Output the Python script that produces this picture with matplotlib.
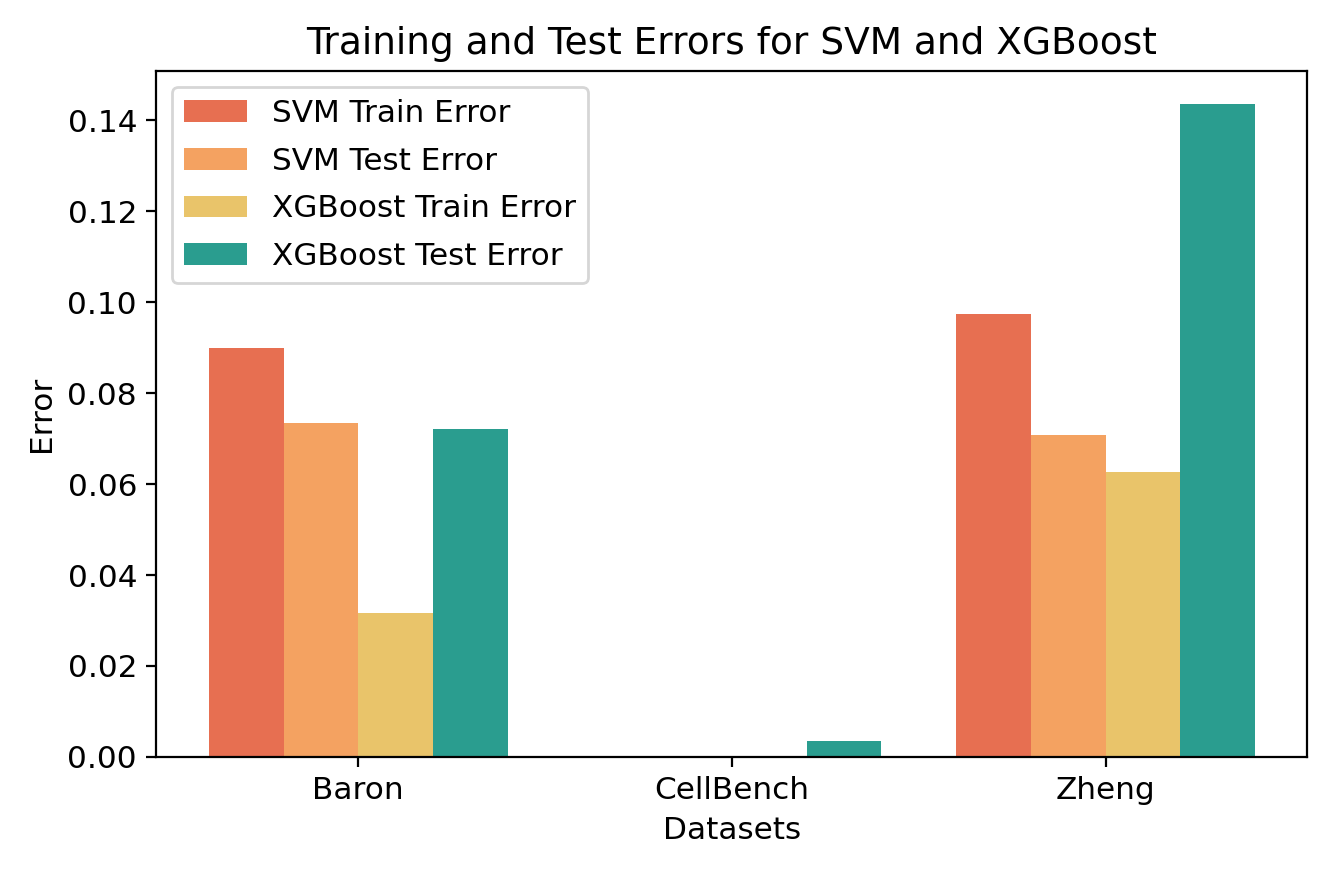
import numpy as np
import matplotlib.pyplot as plt

datasets = ['Baron', 'CellBench', 'Zheng']
svm_train = [0.0900, 0.0, 0.0975]
svm_test = [0.0735, 0.0, 0.0709]
xgb_train = [0.0317, 0.0, 0.0627]
xgb_test = [0.0722, 0.0035, 0.1437]

labels = ['SVM Train Error', 'SVM Test Error', 'XGBoost Train Error', 'XGBoost Test Error']
colors = ['#E76F51', '#F4A261', '#E9C46A', '#2A9D8F']

plt.rcParams['font.size'] = 11.2

fig = plt.figure(figsize=(6.63, 4.38), dpi=200)
ax = fig.add_axes([0.118, 0.136, 0.868, 0.783])

x = np.arange(len(datasets))
w = 0.2
series = [svm_train, svm_test, xgb_train, xgb_test]
for i, (vals, lab, c) in enumerate(zip(series, labels, colors)):
    ax.bar(x + (i - 1.5) * w, vals, w, label=lab, color=c)

ax.set_xticks(x)
ax.set_xticklabels(datasets)
ax.set_xlabel('Datasets')
ax.set_ylabel('Error')
ax.set_title('Training and Test Errors for SVM and XGBoost', fontsize=13.5)
ax.legend(loc='upper left', labelspacing=0.6)

fig.savefig('out.png', dpi=200)
